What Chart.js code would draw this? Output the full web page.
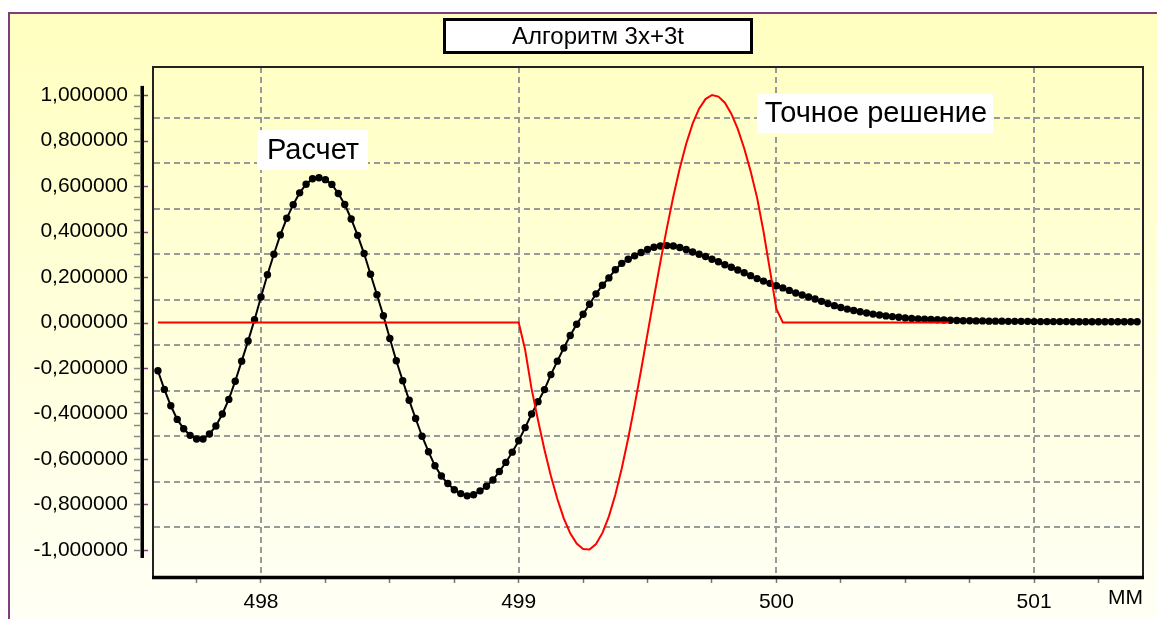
<!DOCTYPE html>
<html><head><meta charset="utf-8">
<script src="https://cdn.jsdelivr.net/npm/chart.js@4"></script>
<style>html,body{margin:0;padding:0;background:#fff;overflow:hidden}canvas{display:block}</style>
</head><body>
<canvas id="c" width="1157" height="619"></canvas>
<script>
const chartTitle = 'Алгоритм 3x+3t';
const calcLabel = 'Расчет';
const exactLabel = 'Точное решение';
const xUnit = 'MM';

// Calculated solution (black dots), x = calcStart + i*calcStep
const calcStart = 497.6, calcStep = 0.025;
const calcY = [
 -0.212,-0.294,-0.366,-0.426,-0.467,-0.496,-0.512,-0.512,-0.490,-0.455,
 -0.402,-0.338,-0.258,-0.170,-0.081, 0.012, 0.112, 0.210, 0.300, 0.385,
  0.458, 0.518, 0.570, 0.608, 0.632, 0.636, 0.628, 0.607, 0.567, 0.519,
  0.455, 0.383, 0.303, 0.212, 0.122, 0.030,-0.070,-0.168,-0.256,-0.342,
 -0.422,-0.500,-0.568,-0.630,-0.675,-0.708,-0.735,-0.752,-0.762,-0.757,
 -0.740,-0.720,-0.692,-0.655,-0.615,-0.570,-0.520,-0.462,-0.402,-0.348,
 -0.295,-0.229,-0.170,-0.112,-0.057,-0.008, 0.036, 0.080, 0.126, 0.164,
  0.196, 0.232, 0.260, 0.278, 0.293, 0.308, 0.321, 0.331, 0.336, 0.338,
  0.336, 0.330, 0.321, 0.310, 0.300, 0.290, 0.278, 0.267, 0.254, 0.243,
  0.231, 0.219, 0.206, 0.193, 0.182, 0.172, 0.162, 0.152, 0.141, 0.130,
  0.121, 0.112, 0.103, 0.093, 0.083, 0.074, 0.066, 0.059, 0.053, 0.047,
  0.042, 0.037, 0.033, 0.029, 0.026, 0.023, 0.020, 0.018, 0.016, 0.014,
  0.013, 0.012, 0.011, 0.010, 0.009, 0.008, 0.008, 0.007, 0.007, 0.006,
  0.006, 0.006, 0.005, 0.005, 0.005, 0.005, 0.004, 0.004, 0.004, 0.004,
  0.004, 0.004, 0.003, 0.003, 0.003, 0.003, 0.003, 0.003, 0.003, 0.003,
  0.003, 0.003, 0.003
];

// Exact solution (red line)
const exactX = [497.6,
 499.000,499.025,499.050,499.075,499.100,499.125,499.150,499.175,499.200,499.225,
 499.250,499.275,499.300,499.325,499.350,499.375,499.400,499.425,499.450,499.475,
 499.500,499.525,499.550,499.575,499.600,499.625,499.650,499.675,499.700,499.725,
 499.750,499.775,499.800,499.825,499.850,499.875,499.900,499.925,499.950,499.975,
 500.000,500.025,
 500.67];
const exactY = [0,
 0,-0.120,-0.292,-0.430,-0.559,-0.675,-0.776,-0.861,-0.927,-0.972,
 -0.996,-0.998,-0.974,-0.925,-0.852,-0.757,-0.641,-0.509,-0.363,-0.209,
 -0.049,0.111,0.267,0.415,0.554,0.678,0.786,0.874,0.940,0.982,
 1.000,0.993,0.966,0.918,0.851,0.766,0.665,0.549,0.400,0.230,
 0.060,0,
 0];

const yTickValues = [-1,-0.8,-0.6,-0.4,-0.2,0,0.2,0.4,0.6,0.8,1];
const yGridValues = [-0.9,-0.7,-0.5,-0.3,-0.1,0.1,0.3,0.5,0.7,0.9];
const xLabelValues = [498,499,500,501];
const xMinorPerUnit = 4;

const X_MIN = 497.5848, X_MAX = 501.4226, Y_MIN = -1.1187, Y_MAX = 1.1231;
const FONT = '"Liberation Sans", Arial, sans-serif';

const calcData = calcY.map((v,i)=>({x: calcStart + i*calcStep, y: v}));
const exactData = exactY.map((v,i)=>({x: exactX[i], y: v}));

const deco = {
  id: 'deco',
  beforeDraw(chart){
    const {ctx, width, height} = chart;
    ctx.save();
    ctx.fillStyle = '#fff'; ctx.fillRect(0,0,width,height);
    const g = ctx.createLinearGradient(0,13,0,height);
    g.addColorStop(0,'#FFFFC0'); g.addColorStop(1,'#FFFFF6');
    ctx.fillStyle = g; ctx.fillRect(9,13,width-9,height-13);
    ctx.strokeStyle = '#7E3E7E'; ctx.lineWidth = 2;
    ctx.beginPath(); ctx.moveTo(9,height); ctx.lineTo(9,13); ctx.lineTo(width,13); ctx.stroke();
    // title box
    ctx.fillStyle = '#fff'; ctx.fillRect(443,18,310,36);
    ctx.lineWidth = 3; ctx.strokeStyle = '#000'; ctx.strokeRect(444.5,19.5,307,33);
    ctx.fillStyle = '#000'; ctx.font = '24px ' + FONT;
    ctx.textAlign = 'center'; ctx.textBaseline = 'middle';
    ctx.fillText(chartTitle, 598, 37);
    ctx.restore();
  },
  beforeDatasetsDraw(chart){
    const {ctx, chartArea:a, scales:{x,y}} = chart;
    ctx.save();
    ctx.strokeStyle = '#999'; ctx.lineWidth = 2; ctx.setLineDash([6,4]);
    for (const v of yGridValues){
      const py = Math.round(y.getPixelForValue(v));
      ctx.beginPath(); ctx.moveTo(a.left,py); ctx.lineTo(a.right,py); ctx.stroke();
    }
    for (const v of xLabelValues){
      const px = Math.round(x.getPixelForValue(v));
      ctx.beginPath(); ctx.moveTo(px,a.top); ctx.lineTo(px,a.bottom); ctx.stroke();
    }
    ctx.restore();
  },
  afterDatasetsDraw(chart){
    const {ctx, chartArea:a} = chart;
    ctx.save();
    // plot frame
    ctx.strokeStyle = '#222'; ctx.lineWidth = 2;
    ctx.beginPath();
    ctx.moveTo(a.left-1, a.bottom); ctx.lineTo(a.left-1, a.top); ctx.lineTo(a.right, a.top); ctx.lineTo(a.right, a.bottom);
    ctx.stroke();
    ctx.strokeStyle = '#000'; ctx.lineWidth = 3.5;
    ctx.beginPath(); ctx.moveTo(a.left-2, a.bottom+0.5); ctx.lineTo(a.right+1, a.bottom+0.5); ctx.stroke();
    // annotations
    ctx.font = '29px ' + FONT; ctx.textAlign = 'center'; ctx.textBaseline = 'middle';
    ctx.fillStyle = '#fff'; ctx.fillRect(257,130,111,40);
    ctx.fillStyle = '#000'; ctx.fillText(calcLabel, 313, 151);
    ctx.fillStyle = '#fff'; ctx.fillRect(757,94,236,39);
    ctx.fillStyle = '#000'; ctx.fillText(exactLabel, 876, 114);
    ctx.restore();
  },
  afterDraw(chart){
    const {ctx, scales:{y}} = chart;
    ctx.save();
    const top = y.getPixelForValue(1.04), bot = y.getPixelForValue(-1.035);
    ctx.fillStyle = '#000'; ctx.fillRect(140.5, top, 3.5, bot-top);
    for (let i=-20;i<=20;i++){
      const py = Math.round(y.getPixelForValue(i*0.05)) + 0.5;
      ctx.strokeStyle = '#888'; ctx.lineWidth = 1.5;
      ctx.beginPath(); ctx.moveTo(134,py); ctx.lineTo(141,py); ctx.stroke();
      if (i % 4 === 0){
        ctx.strokeStyle = '#7E3E7E';
        ctx.beginPath(); ctx.moveTo(144,py); ctx.lineTo(148,py); ctx.stroke();
      }
    }
    ctx.fillStyle = '#000'; ctx.font = '21px ' + FONT;
    ctx.textAlign = 'right'; ctx.textBaseline = 'middle';
    ctx.fillText(xUnit, 1143, 598);
    ctx.restore();
  }
};

new Chart(document.getElementById('c'), {
  type: 'scatter',
  data: { datasets: [
    { label: exactLabel, data: exactData, showLine: true, borderColor: '#FF0000', borderWidth: 2,
      pointRadius: 0, tension: 0, fill: false },
    { label: calcLabel, data: calcData, showLine: true, borderColor: '#000', borderWidth: 2,
      pointRadius: 3.7, pointBackgroundColor: '#000', pointBorderWidth: 0, tension: 0, fill: false }
  ]},
  options: {
    responsive: false, animation: false, devicePixelRatio: 1,
    layout: { padding: { top: 67, right: 14, left: 0, bottom: 0 } },
    plugins: { legend: {display:false}, tooltip: {enabled:false}, title: {display:false} },
    scales: {
      x: {
        type: 'linear', min: X_MIN, max: X_MAX,
        afterFit(s){ s.height = 42; },
        afterBuildTicks(s){
          const t = [];
          for (let i = Math.ceil(X_MIN*xMinorPerUnit); i <= Math.floor(X_MAX*xMinorPerUnit); i++) t.push({value: i/xMinorPerUnit});
          s.ticks = t;
        },
        grid: { display: true, drawOnChartArea: false, drawTicks: true, tickLength: 6, tickColor: '#777', tickWidth: 1.5 },
        border: { display: false },
        ticks: {
          autoSkip: false, maxRotation: 0, padding: 7, color: '#000',
          font: { family: FONT, size: 21 },
          callback: v => xLabelValues.some(l => Math.abs(l - v) < 1e-9) ? String(Math.round(v)) : ''
        }
      },
      y: {
        type: 'linear', min: Y_MIN, max: Y_MAX,
        afterFit(s){ s.width = 154; },
        afterBuildTicks(s){ s.ticks = yTickValues.map(v => ({value: v})); },
        grid: { display: false, drawTicks: false },
        border: { display: false },
        ticks: {
          padding: 26, color: '#000', font: { family: FONT, size: 21 },
          callback: v => Number(v).toFixed(6).replace('.', ',')
        }
      }
    }
  },
  plugins: [deco]
});
</script>
</body></html>
